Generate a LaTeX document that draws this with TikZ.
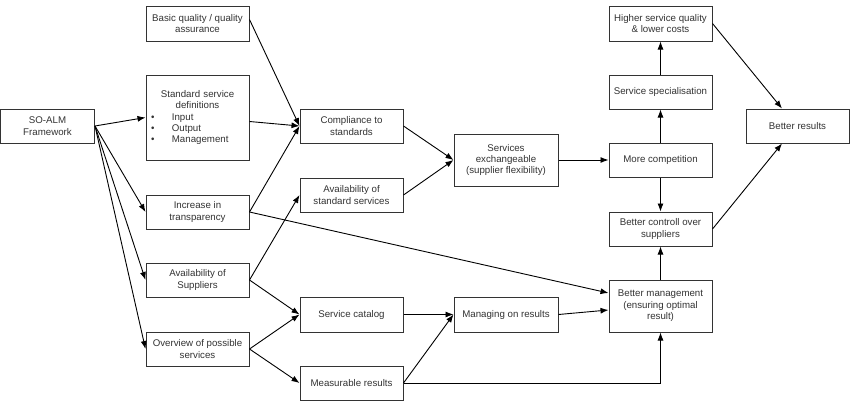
\documentclass[tikz,border=0pt]{standalone}
\usepackage{fontspec}
\setmainfont{Liberation Sans}
\usetikzlibrary{arrows.meta}
\definecolor{txt}{HTML}{333333}
\definecolor{bord}{HTML}{333333}
\begin{document}
\begin{tikzpicture}[x=1pt,y=-1pt,
  box/.style={draw=bord,line width=1pt,fill=white,text=txt,inner sep=0pt,align=center,
    font=\fontsize{9.7pt}{11.4pt}\selectfont,minimum width=#1},
  box/.default=103pt,
  arr/.style={line width=0.9pt,-{Latex[length=8pt,width=6pt]}}]
\useasboundingbox (0,0) rectangle (855,410);
\node[box=94pt,minimum height=34pt] (so) at (47.5,126) {SO-ALM\\Framework};
\node[box,minimum height=35pt] (bq) at (197.5,23.5) {Basic quality / quality\\assurance};
\node[box,minimum height=85pt,text width=103pt] (ssd) at (197.5,117.5) {Standard service\\definitions\\
\makebox[103pt][l]{\hspace{5pt}\textbullet\hspace{17.5pt}Input}\\
\makebox[103pt][l]{\hspace{5pt}\textbullet\hspace{17.5pt}Output}\\
\makebox[103pt][l]{\hspace{5pt}\textbullet\hspace{17.5pt}Management}};
\node[box,minimum height=34pt] (it) at (197.5,212) {Increase in\\transparency};
\node[box,minimum height=34pt] (as) at (197.5,280) {Availability of\\Suppliers};
\node[box,minimum height=34pt] (ov) at (197.5,349) {Overview of possible\\services};
\node[box,minimum height=34pt] (cs) at (351.5,126) {Compliance to\\standards};
\node[box,minimum height=34pt] (ass) at (351.5,195) {Availability of\\standard services};
\node[box,minimum height=35pt] (sc) at (351.5,314.5) {Service catalog};
\node[box,minimum height=34pt] (mr) at (351.5,383) {Measurable results};
\node[box=104pt,minimum height=52pt] (se) at (506,160) {Services\\exchangeable\\(supplier flexibility)};
\node[box=104pt,minimum height=35pt] (mor) at (506,314.5) {Managing on results};
\node[box,minimum height=34pt] (mc) at (660.5,160) {More competition};
\node[box,minimum height=34pt] (ssp) at (660.5,92) {Service specialisation};
\node[box,minimum height=35pt] (hq) at (660.5,23.5) {Higher service quality\\\& lower costs};
\node[box,minimum height=34pt] (bc) at (660.5,229) {Better controll over\\suppliers};
\node[box,minimum height=52pt] (bm) at (660.5,306) {Better management\\(ensuring optimal\\result)};
\node[box,minimum height=34pt] (br) at (797.5,126) {Better results};

\draw[arr] (so.east) -- (ssd.west);
\draw[arr] (so.east) -- (it.west);
\draw[arr] (so.east) -- (as.west);
\draw[arr] (so.east) -- (ov.west);
\draw[arr] ([yshift=4pt]bq.east) -- (cs.west);
\draw[arr] ([yshift=-4pt]ssd.east) -- (cs.west);
\draw[arr] (it.east) -- (cs.west);
\draw[arr] (it.east) -- ([yshift=13pt]bm.west);
\draw[arr] (as.east) -- (ass.west);
\draw[arr] (as.east) -- (sc.west);
\draw[arr] (ov.east) -- (sc.west);
\draw[arr] (ov.east) -- (mr.west);
\draw[arr] (cs.east) -- (se.west);
\draw[arr] (ass.east) -- (se.west);
\draw[arr] (se.east) -- (mc.west);
\draw[arr] (mc.north) -- (ssp.south);
\draw[arr] (ssp.north) -- (hq.south);
\draw[arr] (mc.south) -- (bc.north);
\draw[arr] (bm.north) -- (bc.south);
\draw[arr] (hq.east) -- ([xshift=-15.5pt]br.north);
\draw[arr] (bc.east) -- ([xshift=-15.5pt]br.south);
\draw[arr] (sc.east) -- (mor.west);
\draw[arr] (mr.east) -- (mor.west);
\draw[arr] (mr.east) -| (bm.south);
\draw[arr] (mor.east) -- ([yshift=-4pt]bm.west);
\end{tikzpicture}
\end{document}
